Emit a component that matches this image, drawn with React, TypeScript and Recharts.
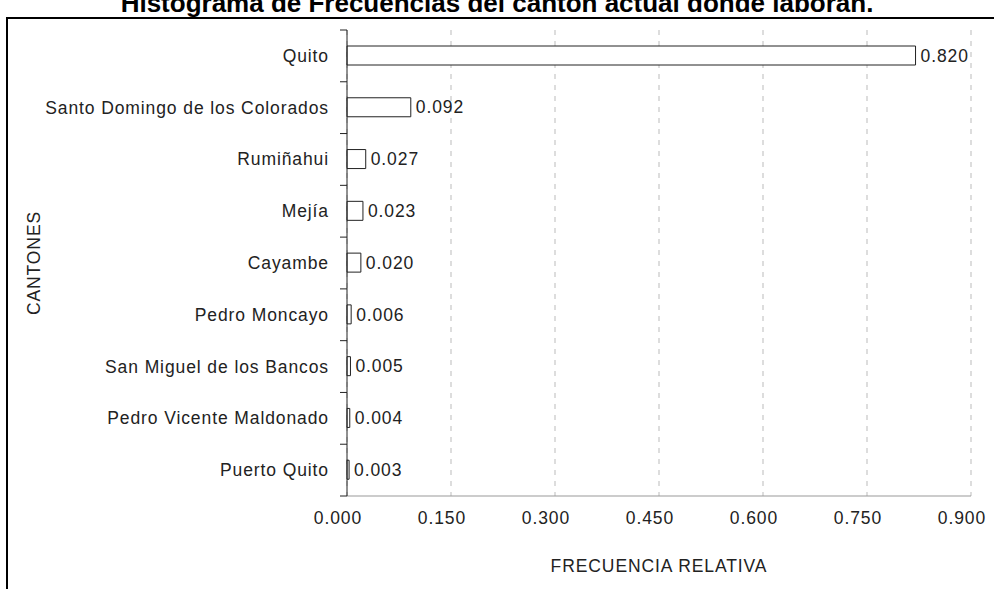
import { BarChart, Bar, XAxis, YAxis, CartesianGrid, LabelList } from "recharts";

const cantones = [
  "Quito",
  "Santo Domingo de los Colorados",
  "Rumiñahui",
  "Mejía",
  "Cayambe",
  "Pedro Moncayo",
  "San Miguel de los Bancos",
  "Pedro Vicente Maldonado",
  "Puerto Quito",
];
const frecuencias = [0.82, 0.092, 0.027, 0.023, 0.02, 0.006, 0.005, 0.004, 0.003];
const xTicks = [0, 0.15, 0.3, 0.45, 0.6, 0.75, 0.9];

const data = cantones.map((name, i) => ({ name, value: frecuencias[i] }));

const W = 994;
const H = 589;
const TOP = 30;
const AXIS_X = 347;
const X_H = 93;
const BAND = (H - TOP - X_H) / cantones.length;
const FONT = "'Liberation Sans', Arial, sans-serif";
const FS = 17.5;
const LS = 0.9;
const INK = "#222";

function CatTick({ y, payload, index }: any) {
  return (
    <g>
      <text
        x={AXIS_X - 18}
        y={y}
        dy={6}
        textAnchor="end"
        fontSize={FS}
        fontFamily={FONT}
        letterSpacing={LS}
        fill={INK}
      >
        {payload.value}
      </text>
      <line x1={AXIS_X - 7} x2={AXIS_X} y1={y - BAND / 2} y2={y - BAND / 2} stroke="#222" />
      {index === cantones.length - 1 && (
        <line x1={AXIS_X - 7} x2={AXIS_X} y1={y + BAND / 2} y2={y + BAND / 2} stroke="#222" />
      )}
    </g>
  );
}

export default function App() {
  return (
    <div style={{ position: "absolute", left: 0, top: 0, width: W, height: H, overflow: "hidden", background: "#fff" }}>
      <div
        style={{
          position: "absolute",
          top: -12,
          left: 0,
          width: W,
          textAlign: "center",
          fontFamily: FONT,
          fontWeight: "bold",
          fontSize: 26,
          color: "#000",
          whiteSpace: "nowrap",
        }}
      >
        Histograma de Frecuencias del cantón actual donde laboran.
      </div>
      <div
        style={{
          position: "absolute",
          left: 6,
          top: 17,
          width: W,
          height: H,
          borderLeft: "2px solid #000",
          borderTop: "2px solid #000",
        }}
      />
      <div style={{ position: "absolute", left: 0, top: 0 }}>
        <BarChart
          width={W}
          height={H}
          data={data}
          layout="vertical"
          margin={{ top: TOP, right: W - 971, bottom: 0, left: 0 }}
        >
          <CartesianGrid horizontal={false} stroke="#bbb" strokeDasharray="5 6" />
          <XAxis
            type="number"
            domain={[0, 0.9]}
            ticks={xTicks}
            height={X_H}
            axisLine={{ stroke: "#999" }}
            tickLine={false}
            tick={{ fill: INK, fontSize: FS, fontFamily: FONT, letterSpacing: LS, dx: -9, dy: 8 }}
            tickFormatter={(v: number) => v.toFixed(3)}
            interval={0}
            label={{
              value: "FRECUENCIA RELATIVA",
              position: "insideBottom",
              offset: 17,
              fill: INK,
              fontSize: FS,
              fontFamily: FONT,
              letterSpacing: LS,
            }}
          />
          <XAxis
            xAxisId="top"
            orientation="top"
            type="number"
            domain={[0, 0.9]}
            height={0}
            tick={false}
            tickLine={false}
            axisLine={{ stroke: "#999" }}
          />
          <YAxis
            type="category"
            dataKey="name"
            width={AXIS_X}
            axisLine={{ stroke: "#222" }}
            tickLine={false}
            tick={<CatTick />}
            interval={0}
            label={{
              value: "CANTONES",
              angle: -90,
              position: "insideLeft",
              offset: 34,
              fill: INK,
              fontSize: FS,
              fontFamily: FONT,
              letterSpacing: LS,
              style: { textAnchor: "middle" },
            }}
          />
          <YAxis
            yAxisId="right"
            orientation="right"
            type="category"
            dataKey="name"
            width={0}
            tick={false}
            tickLine={false}
            axisLine={{ stroke: "#999" }}
          />
          <Bar dataKey="value" fill="#fff" stroke="#222" barSize={19} isAnimationActive={false}>
            <LabelList
              dataKey="value"
              position="right"
              offset={5}
              formatter={(v: any) => Number(v).toFixed(3)}
              fill={INK}
              fontSize={FS}
              fontFamily={FONT}
              letterSpacing={LS}
            />
          </Bar>
        </BarChart>
      </div>
    </div>
  );
}
